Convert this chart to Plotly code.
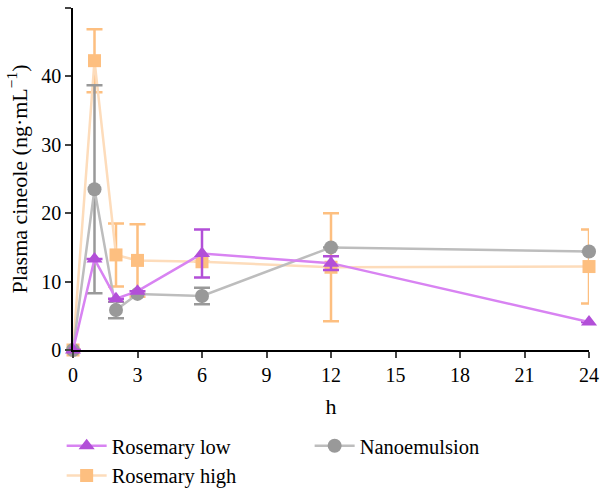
import plotly.graph_objects as go

time_h = [0, 1, 2, 3, 6, 12, 24]

low_vals = [0, 13.3, 7.5, 8.6, 14.1, 12.7, 4.1]
low_err = [0, 0, 0, 0, 3.5, 1.0, 0]

high_vals = [0, 42.3, 13.9, 13.1, 12.9, 12.1, 12.2]
high_err = [0, 4.6, 4.6, 5.3, 0, 7.9, 5.4]

nano_vals = [0, 23.5, 5.85, 8.2, 7.9, 15.0, 14.4]
nano_err = [0, 15.2, 1.2, 0, 1.2, 0, 0]

x_ticks = [0, 3, 6, 9, 12, 15, 18, 21, 24]
y_ticks = [0, 10, 20, 30, 40, 50]

FONT = "Liberation Serif"

fig = go.Figure()

def add(name, y, err, mcol, lcol, symbol, size, rank):
    fig.add_trace(go.Scatter(
        x=time_h, y=y, name=name, mode="lines+markers",
        line=dict(color=lcol, width=2.5),
        marker=dict(color=mcol, symbol=symbol, size=size),
        error_y=dict(type="data", array=err, visible=True, color=mcol,
                     thickness=2.5, width=8),
        cliponaxis=False, legendrank=rank,
    ))

add("Rosemary high", high_vals, high_err, "#fdbf80", "#fddcbb", "square", 13, 3)
add("Nanoemulsion", nano_vals, nano_err, "#999999", "#bdbdbd", "circle", 14, 2)
add("Rosemary low", low_vals, low_err, "#b24fd8", "#d883f2", "triangle-up", 14, 1)

fig.update_layout(
    width=600, height=489,
    margin=dict(l=73, r=11, t=8, b=139, autoexpand=False),
    plot_bgcolor="white", paper_bgcolor="white",
    font=dict(family=FONT, size=20, color="black"),
    showlegend=True,
    legend=dict(orientation="h", x=-0.022, y=-0.222, xanchor="left", yanchor="top",
                traceorder="normal", entrywidth=193, entrywidthmode="pixels",
                font=dict(size=20.5), itemwidth=40, tracegroupgap=0),
    xaxis=dict(range=[0, 24], tickvals=x_ticks, showline=True, linecolor="black",
               linewidth=1.5, ticks="outside", ticklen=6, tickwidth=1.5,
               showgrid=False, zeroline=False,
               title=dict(text="h", font=dict(size=22), standoff=14)),
    yaxis=dict(range=[0, 50], tickvals=y_ticks, showline=True, linecolor="black",
               linewidth=1.5, ticks="outside", ticklen=6, tickwidth=1.5,
               showgrid=False, zeroline=False,
               title=dict(text="Plasma cineole (ng·mL<sup>−1</sup>)", font=dict(size=22), standoff=8)),
)

fig.write_html("out.html")
